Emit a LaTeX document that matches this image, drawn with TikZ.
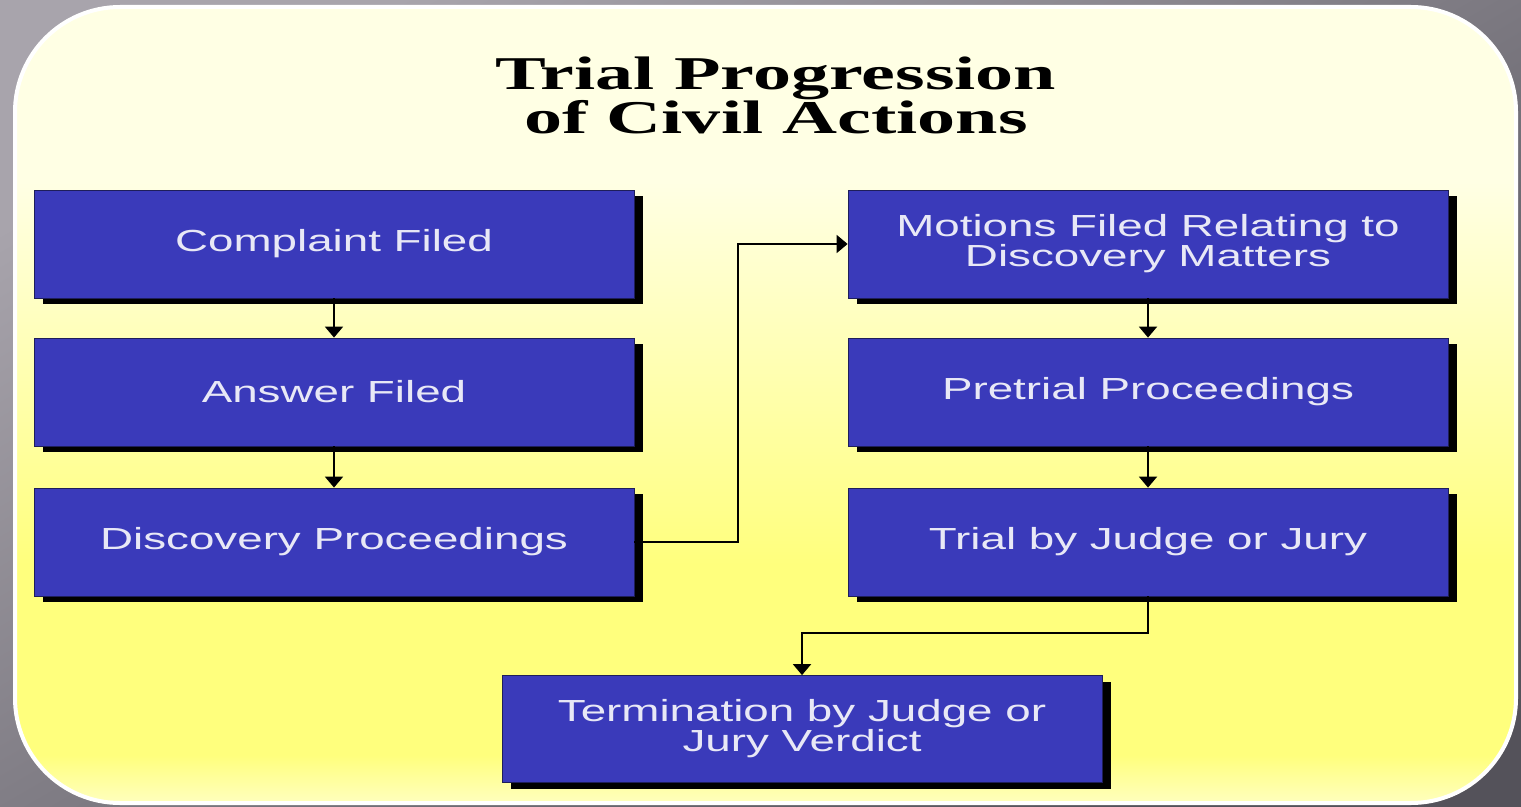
\documentclass[tikz,border=0pt]{standalone}
\usepackage{fontspec}
\usepackage{tikz}
\usetikzlibrary{arrows.meta, shadows}
\newfontfamily\boxfont[FakeStretch=1.5]{Liberation Sans}
\newfontfamily\titlefont[FakeStretch=1.62]{Liberation Serif}
\definecolor{boxblue}{RGB}{58,58,186}
\definecolor{boxtext}{RGB}{232,232,246}
\definecolor{boxrim}{RGB}{30,30,90}
\definecolor{bglight}{RGB}{168,164,172}
\definecolor{bgdark}{RGB}{84,82,90}
\definecolor{yelpale}{RGB}{255,255,228}
\definecolor{yeldeep}{RGB}{255,255,125}
\definecolor{yeledge}{RGB}{255,255,190}
\pgfdeclareverticalshading{panelshade}{100bp}{color(0bp)=(yeledge); color(25bp)=(yeledge); color(28bp)=(yeldeep); color(40bp)=(yeldeep); color(64bp)=(yelpale); color(100bp)=(yelpale)}
\tikzset{
    stepbox/.style={rectangle, draw=boxrim, line width=0.8bp, fill=boxblue, text=boxtext,
        minimum width=600bp, minimum height=108bp, align=center, inner sep=0pt,
        font=\boxfont\fontsize{30.5bp}{30bp}\selectfont,
        general shadow={fill=black, shadow xshift=9bp, shadow yshift=-6bp}}, % blue step box
    link/.style={line width=2bp, -{Triangle[width=18bp, length=11bp]}} % connector with arrow
}

\begin{document}
\begin{tikzpicture}[x=1bp, y=-1bp]
    \useasboundingbox (0,0) rectangle (1521,806);
    \shade[top color=bglight, bottom color=bgdark, shading angle=30] (0,0) rectangle (1521,806);
    \shade[shading=panelshade, rounded corners=105bp] (15,7) rectangle (1516,803);
    \draw[white, line width=4bp, rounded corners=105bp] (15,7) rectangle (1516,803);

    \node[font=\titlefont\bfseries\fontsize{47bp}{44bp}\selectfont, align=center, inner sep=0pt] (title) at (776,95) {Trial Progression\\of Civil Actions};

    \def\lx{334} \def\rx{1148}
    \node[stepbox] (compl) at (\lx,244) {Complaint Filed};
    \node[stepbox] (answ) at (\lx,392) {Answer Filed};
    \node[stepbox] (disc) at (\lx,542) {Discovery Proceedings};
    \node[stepbox] (motn) at (\rx,244) {Motions Filed Relating to\\Discovery Matters};
    \node[stepbox] (pret) at (\rx,392) {Pretrial Proceedings};
    \node[stepbox] (trial) at (\rx,542) {Trial by Judge or Jury};
    \node[stepbox, minimum height=107bp] (term) at (802,729) {Termination by Judge or\\Jury Verdict};

    \foreach \a/\b in {compl/answ, answ/disc, motn/pret, pret/trial} {\draw[link] (\a.south) -- (\b.north);}
    \draw[link] (disc.east) -- ++(104,0) |- (motn.west);
    \draw[link] (trial.south) -- ++(0,37) -| (term.north);
\end{tikzpicture}
\end{document}
